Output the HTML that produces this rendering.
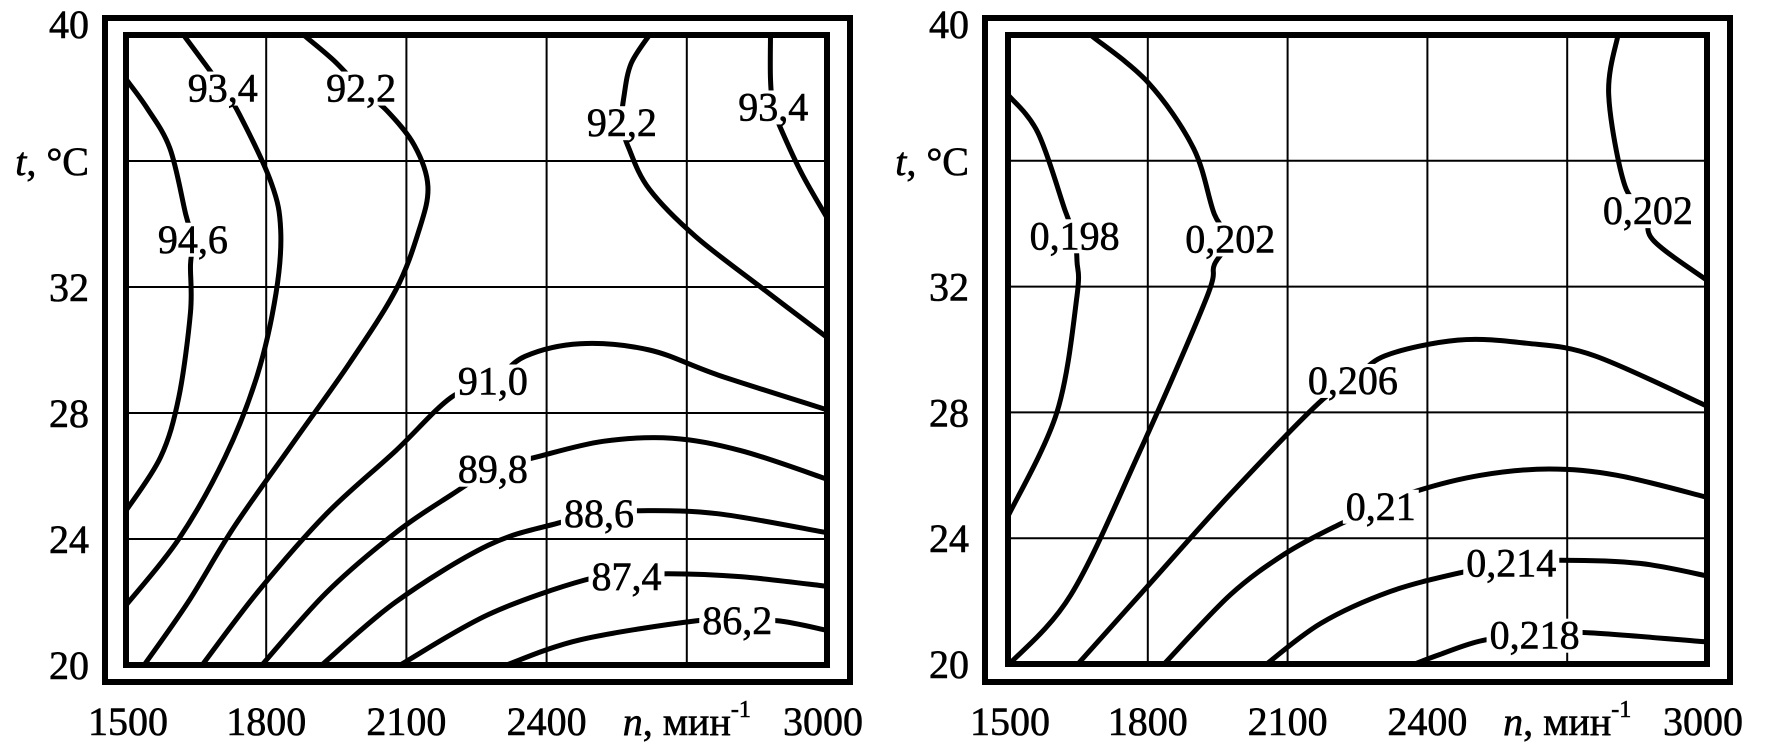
<!DOCTYPE html>
<html><head><meta charset="utf-8"><style>
html,body{margin:0;padding:0;background:#fff;}
svg{display:block;}
text{font-family:"Liberation Serif","Noto Serif CJK SC",serif;fill:#000;stroke:#000;stroke-width:0.6;}
</style></head><body>
<svg id="c" width="1772" height="744" viewBox="0 0 1772 744" xmlns="http://www.w3.org/2000/svg"></svg>
<script>
// ---- Data ----
const xTicks = [1500, 1800, 2100, 2400, 3000];
const yTicks = [40, 32, 28, 24, 20];

// Left chart
const leftLevels = ["94,6","93,4","92,2","91,0","89,8","88,6","87,4","86,2","92,2","93,4"];
const leftN = [
 [1500,1544,1594,1628,1643,1638,1638,1613,1574,1500],
 [1623,1668,1707,1742,1811,1831,1821,1781,1712,1613,1500],
 [1880,1944,2003,2058,2117,2146,2127,2077,1979,1860,1732,1633,1539],
 [1663,1781,1929,2077,2196,2285,2354,2472,2620,2768,3000],
 [1791,1929,2077,2196,2285,2378,2521,2669,2817,3000],
 [1919,2077,2275,2423,2512,2601,2768,3000],
 [2087,2275,2482,2571,2660,2818,3000],
 [2314,2472,2719,2808,2897,3000],
 [2620,2581,2566,2561,2576,2620,2719,2867,3000],
 [2879,2879,2885,2902,2946,3000]
];
const leftT = [
 [38.6,37.7,36.4,34.3,33.5,32.7,31.2,28.5,26.6,24.9],
 [40,39.1,38.3,37.5,35.3,33.8,31.8,29.2,26.6,24.0,21.9],
 [40,39.2,38.3,37.6,36.5,35.2,33.8,31.9,29.6,27.1,24.4,22.0,20],
 [20,22.3,24.8,26.8,28.5,29.0,29.8,30.2,30.0,29.2,28.1],
 [20,22.3,24.2,25.4,26.2,26.6,27.1,27.2,26.8,25.9],
 [20,22.0,23.8,24.5,24.8,24.9,24.8,24.2],
 [20,21.6,22.7,22.8,22.9,22.8,22.5],
 [20,20.8,21.4,21.4,21.4,21.1],
 [40,39.1,38.1,37.2,36.4,35.1,33.6,31.9,30.4],
 [40,38.6,37.7,37.0,35.6,34.2]
];
const leftLabelN = [1643,1707,2003,2285,2285,2512,2571,2808,2561,2885];
const leftLabelT = [33.5,38.3,38.3,29.0,26.2,24.8,22.8,21.4,37.2,37.7];

// Right chart
const rightLevels = ["0,198","0,202","0,206","0,21","0,214","0,218","0,202"];
const rightN = [
 [1500,1564,1623,1643,1648,1648,1605,1500],
 [1677,1800,1898,1943,1977,1943,1925,1781,1635,1503],
 [1650,1801,1977,2167,2240,2309,2465,2612,2759,3000],
 [1835,1977,2094,2206,2300,2377,2514,2661,2807,3000],
 [2055,2172,2319,2470,2580,2685,2856,3000],
 [2373,2426,2519,2630,2734,3000],
 [2809,2789,2824,2873,2883,3000]
];
const rightT = [
 [38.1,36.9,34.4,33.6,32.8,31.7,28.0,24.7],
 [40,38.5,36.4,34.3,33.5,32.7,31.6,26.7,22.2,20],
 [20,22.5,25.4,28.3,29.0,29.8,30.3,30.2,29.8,28.2],
 [20,22.2,23.5,24.4,25.0,25.5,26.0,26.2,26.0,25.3],
 [20,21.3,22.3,22.9,23.2,23.3,23.2,22.8],
 [20,20.3,20.75,20.9,21.0,20.7],
 [40,38.1,35.2,34.4,33.5,32.2]
];
const rightLabelN = [1643,1977,2240,2300,2580,2630,2873];
const rightLabelT = [33.6,33.5,29.0,25.0,23.2,20.9,34.4];

const NS = "http://www.w3.org/2000/svg";
const svg = document.getElementById('c');
function mk(tag, attrs, parent){
  const e = document.createElementNS(NS, tag);
  for (const k in attrs) e.setAttribute(k, attrs[k]);
  (parent||svg).appendChild(e);
  return e;
}
function smoothPath(pts){
  let d = "M"+pts[0][0].toFixed(1)+","+pts[0][1].toFixed(1);
  for (let i=0;i<pts.length-1;i++){
    const p0=pts[i-1]||pts[i], p1=pts[i], p2=pts[i+1], p3=pts[i+2]||p2;
    const c1=[p1[0]+(p2[0]-p0[0])/6, p1[1]+(p2[1]-p0[1])/6];
    const c2=[p2[0]-(p3[0]-p1[0])/6, p2[1]-(p3[1]-p1[1])/6];
    d += " C"+c1[0].toFixed(1)+","+c1[1].toFixed(1)+" "+c2[0].toFixed(1)+","+c2[1].toFixed(1)+" "+p2[0].toFixed(1)+","+p2[1].toFixed(1);
  }
  return d;
}

function drawChart(cfg){
  const g = mk('g', {});
  
  
  const X = n => cfg.x0 + (n-1500)/1500*(cfg.x1-cfg.x0);
  const Y = t => cfg.y1 - (t-20)/20*(cfg.y1-cfg.y0);
  for (let k=1;k<5;k++){
    const gx = X(1500+k*300);
    const l = mk('line',{x1:gx,y1:cfg.y0,x2:gx,y2:cfg.y1,stroke:'#000','stroke-width':2},g);
    
    
    const gy = Y(20+k*4);
    const h = mk('line',{x1:cfg.x0,y1:gy,x2:cfg.x1,y2:gy,stroke:'#000','stroke-width':2},g);
    
    
  }
  const cg = mk('g',{},g);
  
  
  for (let i=0;i<cfg.levels.length;i++){
    const pts = cfg.N[i].map((n,j)=>[X(n),Y(cfg.T[i][j])]);
    const p = mk('path',{d:smoothPath(pts),fill:'none',stroke:'#000','stroke-width':5,'stroke-linecap':'butt'},cg);
    
    
  }
  for (let i=0;i<cfg.levels.length;i++){
    const lx = X(cfg.LN[i]), ly = Y(cfg.LT[i]);
    const r = mk('rect',{fill:'#fff'},g);
    
    
    const t = mk('text',{x:lx,y:ly+13,'text-anchor':'middle','font-size':40},g);
    t.textContent = cfg.levels[i];
    
    
    const b = t.getBBox();
    r.setAttribute('x', b.x-3); r.setAttribute('y', ly-17);
    r.setAttribute('width', b.width+6); r.setAttribute('height', 34);
  }
  const f1 = mk('rect',{x:cfg.x0,y:cfg.y0,width:cfg.x1-cfg.x0,height:cfg.y1-cfg.y0,fill:'none',stroke:'#000','stroke-width':6},g);
  
  
  const f2 = mk('rect',{x:cfg.ox0,y:18,width:cfg.ox1-cfg.ox0,height:682-18,fill:'none',stroke:'#000','stroke-width':6},g);
  
  
  for (const v of yTicks){
    let yy = Y(v)+14; if (v===40) yy = 38;
    const t = mk('text',{x:cfg.ox0-16,y:yy,'text-anchor':'end','font-size':40},g);
    t.textContent = v;
    
    
  }
  const yt = mk('text',{x:cfg.ox0-16,y:Y(36)+14,'text-anchor':'end','font-size':40},g);
  yt.innerHTML = '<tspan font-style="italic">t</tspan>, °C';
  
  
  for (const v of xTicks){
    let xx = X(v); if (v===3000) xx -= 4; if (v===1500) xx += 2;
    const t = mk('text',{x:xx,y:735,'text-anchor':'middle','font-size':40},g);
    t.textContent = v;
    
    
  }
  const xt = mk('text',{x:X(2700),y:735,'text-anchor':'middle','font-size':40},g);
  xt.innerHTML = '<tspan font-style="italic">n</tspan>, мин<tspan font-size="24" dy="-18">-1</tspan>';
  
  
}

drawChart({name:'left-chart',x0:126,x1:827,y0:35,y1:665,ox0:105,ox1:850,
  levels:leftLevels,N:leftN,T:leftT,LN:leftLabelN,LT:leftLabelT});
drawChart({name:'right-chart',x0:1008,x1:1707,y0:35,y1:664,ox0:985,ox1:1730,
  levels:rightLevels,N:rightN,T:rightT,LN:rightLabelN,LT:rightLabelT});
</script>
</body></html>
